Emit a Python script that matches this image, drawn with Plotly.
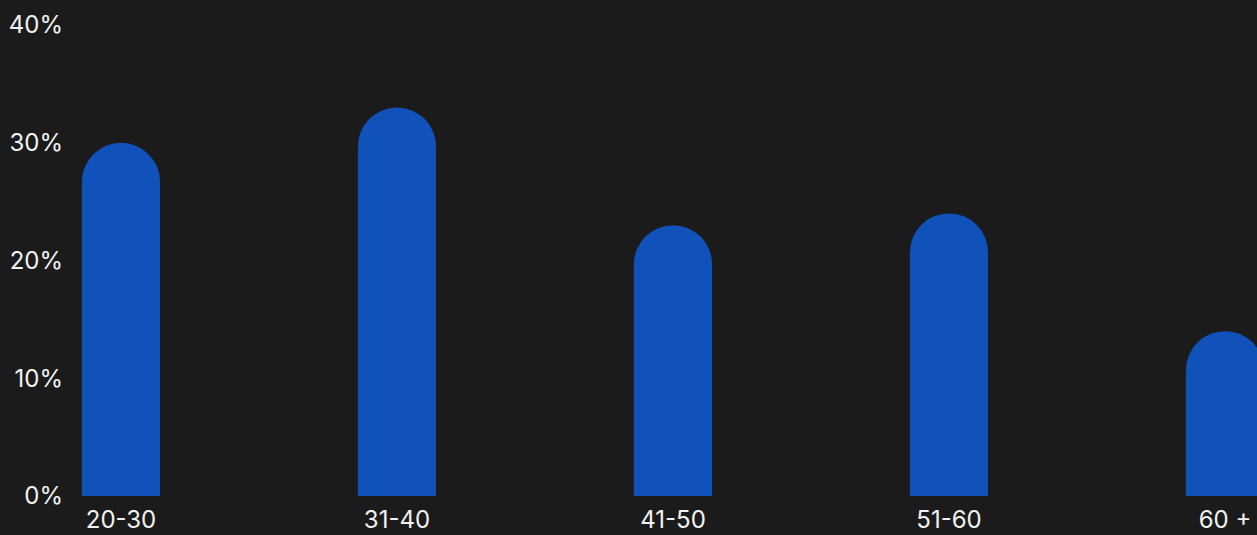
import plotly.graph_objects as go

# Age group shares (percent)
age_groups = ["20-30", "31-40", "41-50", "51-60", "60 +"]
shares = [30, 33, 23, 24, 14]
y_ticks = [0, 10, 20, 30, 40]
y_tick_labels = ["0%", "10%", "20%", "30%", "40%"]

BG = "#1b1b1b"
BAR = "#1052b9"
TEXT = "#f2f2f2"
FONT = "Inter, Lato, sans-serif"

positions = list(range(len(age_groups)))

fig = go.Figure(
    go.Bar(
        x=positions,
        y=shares,
        width=0.283,
        marker=dict(color=BAR, line=dict(width=0)),
        hoverinfo="skip",
    )
)

fig.update_layout(
    width=1257,
    height=535,
    paper_bgcolor=BG,
    plot_bgcolor=BG,
    margin=dict(l=64, r=0, t=25, b=39),
    barcornerradius=39,
    showlegend=False,
    font=dict(family=FONT, size=24, color=TEXT),
)

fig.update_xaxes(
    range=[-0.2065, 4.116],
    tickvals=positions,
    ticktext=age_groups,
    showgrid=False,
    zeroline=False,
    showline=False,
    ticks="",
    ticklabelstandoff=7,
    tickfont=dict(family=FONT, size=24, color=TEXT),
)

fig.update_yaxes(
    range=[0, 40],
    tickvals=y_ticks,
    ticktext=y_tick_labels,
    showgrid=False,
    zeroline=False,
    showline=False,
    ticks="",
    tickfont=dict(family=FONT, size=24, color=TEXT),
)

fig.write_html("out.html")
